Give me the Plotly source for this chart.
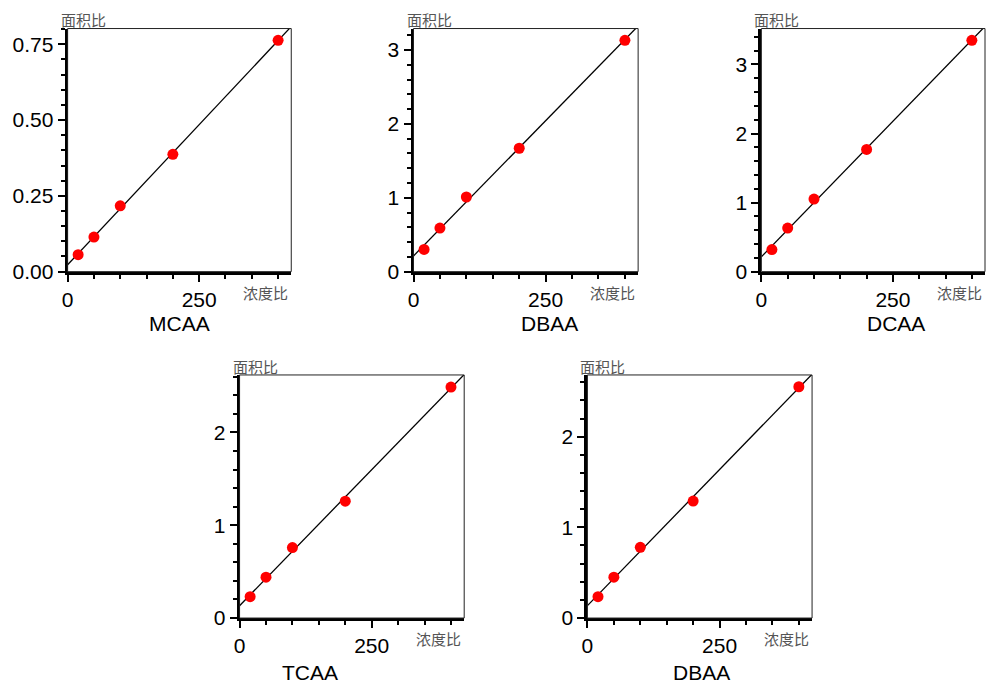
import plotly.graph_objects as go
import numpy as np

W, H = 986, 694

# ---- data ----
conc = [20, 50, 100, 200, 400]
titles = ["MCAA", "DBAA", "DCAA", "TCAA", "DBAA"]
mcaa = [0.056, 0.114, 0.217, 0.387, 0.763]
dbaa = [0.30, 0.59, 1.01, 1.67, 3.13]
dcaa = [0.32, 0.63, 1.05, 1.77, 3.35]
tcaa = [0.23, 0.44, 0.76, 1.26, 2.49]
dbaa2 = [0.235, 0.45, 0.78, 1.29, 2.55]
series = [mcaa, dbaa, dcaa, tcaa, dbaa2]
y_max = [0.802, 3.29, 3.52, 2.62, 2.68]
y_dtick = [0.25, 1, 1, 1, 1]
y_minor = [0.05, 0.2, 0.2, 0.2, 0.2]
y_fmt = [".2f", "d", "d", "d", "d"]
x_max = 425
x_label = "浓度比"
y_label = "面积比"

# ---- layout geometry (pixels of the 986x694 frame) ----
boxes = [  # left, right, top, bottom
    (62, 287, 29, 276),
    (410, 636, 29, 276),
    (760, 985, 29, 276),
    (235, 461, 381, 628),
    (585, 811, 381, 628),
]
title_pos = [(175, 329), (547, 329), (895, 329), (306, 683), (700, 683)]

def px(x):
    return x / W

def py(y):
    return 1 - y / H

fig = go.Figure()
layout = {}
annotations = []
shapes = []

for i in range(5):
    n = "" if i == 0 else str(i + 1)
    xa, ya = "x" + n, "y" + n
    l, r, t, b = boxes[i]
    ys = series[i]
    k, c = np.polyfit(conc, ys, 1)
    xl = [0, x_max + 20]
    fig.add_trace(go.Scatter(x=xl, y=[c + k * v for v in xl], mode="lines",
                             line=dict(color="black", width=1.3),
                             xaxis=xa, yaxis=ya, showlegend=False, hoverinfo="skip"))
    fig.add_trace(go.Scatter(x=conc, y=ys, mode="markers",
                             marker=dict(color="#ff0000", size=11),
                             xaxis=xa, yaxis=ya, showlegend=False, cliponaxis=False))
    layout["xaxis" + n] = dict(
        domain=[px(l), px(r)], anchor=ya, range=[0, x_max],
        tickvals=[0, 250], ticks="outside", ticklen=7, tickwidth=2, tickcolor="black",
        showline=True, linewidth=3, linecolor="black", showgrid=False, zeroline=False,
        minor=dict(dtick=50, tick0=0, ticks="outside", ticklen=4, tickwidth=2,
                   tickcolor="black", showgrid=False),
        tickfont=dict(family="Liberation Sans", size=21, color="black"),
        fixedrange=True,
    )
    layout["yaxis" + n] = dict(
        domain=[py(b), py(t)], anchor=xa, range=[0, y_max[i]],
        dtick=y_dtick[i], tick0=0, tickformat=y_fmt[i],
        ticks="outside", ticklen=7, tickwidth=2, tickcolor="black",
        showline=True, linewidth=3, linecolor="black", showgrid=False, zeroline=False,
        minor=dict(dtick=y_minor[i], tick0=0, ticks="outside", ticklen=4, tickwidth=2,
                   tickcolor="black", showgrid=False),
        tickfont=dict(family="Liberation Sans", size=21, color="black"),
        fixedrange=True,
    )
    shapes.append(dict(type="rect", xref=xa + " domain", yref=ya + " domain",
                       x0=0, x1=1, y0=0, y1=1, line=dict(color="#222", width=1),
                       layer="above"))
    annotations.append(dict(text=titles[i], x=px(title_pos[i][0]), y=py(title_pos[i][1]),
                            xref="paper", yref="paper", showarrow=False,
                            xanchor="center", yanchor="middle",
                            font=dict(family="Liberation Sans", size=21, color="black")))
    annotations.append(dict(text=y_label, x=px(l - 9), y=py(t - 9),
                            xref="paper", yref="paper", showarrow=False,
                            xanchor="left", yanchor="middle",
                            font=dict(family="Noto Sans CJK SC", size=15, color="#555")))
    annotations.append(dict(text=x_label, x=px(r - 1), y=py(b + 21),
                            xref="paper", yref="paper", showarrow=False,
                            xanchor="right", yanchor="middle",
                            font=dict(family="Noto Sans CJK SC", size=15, color="#555")))

fig.update_layout(
    autosize=True, margin=dict(l=0, r=0, t=0, b=0),
    paper_bgcolor="white", plot_bgcolor="white",
    annotations=annotations, shapes=shapes, **layout,
)
fig.write_html(
    "out.html",
    default_width="100vw", default_height="100vh",
    config={"responsive": True, "displayModeBar": False},
    post_script="document.body.style.margin='0';document.body.style.padding='0';"
                "document.body.style.overflow='hidden';"
                "document.documentElement.style.overflow='hidden';"
                "window.dispatchEvent(new Event('resize'));",
)
